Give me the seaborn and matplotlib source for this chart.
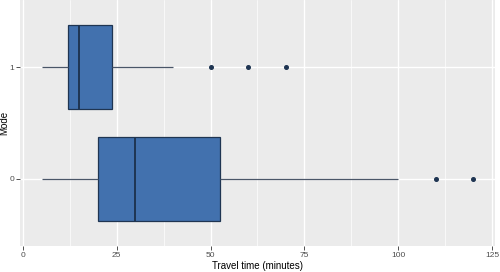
import numpy as np
import pandas as pd
import seaborn as sns
import matplotlib.pyplot as plt
from matplotlib.ticker import MultipleLocator

# Travel time observations (minutes) per mode
mode0_times = [5, 10, 15, 20, 25, 28, 30, 35, 45, 52.5, 100, 110, 120]
mode1_times = [5, 8, 10, 11, 12, 13, 14, 14.5, 15, 17, 19, 21, 23.75, 40, 50, 60, 70]
mode_order = ["1", "0"]
x_ticks = [0, 25, 50, 75, 100, 125]

df = pd.DataFrame({
    "time": mode0_times + mode1_times,
    "Mode": ["0"] * len(mode0_times) + ["1"] * len(mode1_times),
})

sns.set_theme(style="darkgrid")
plt.rcParams["font.family"] = ["Liberation Sans", "DejaVu Sans"]

fig = plt.figure(figsize=(5.0, 2.72), dpi=100)
ax = fig.add_axes([0.040, 0.0956, 0.950, 0.9044])
ax.set_facecolor("#EBEBEB")

fill = "#4271AE"
line = "#1F3552"
sns.boxplot(data=df, x="time", y="Mode", order=mode_order, orient="h",
            width=0.75, color=fill, saturation=1, whis=1.5, ax=ax,
            boxprops=dict(facecolor=fill, edgecolor=line, linewidth=0.9),
            medianprops=dict(color=line, linewidth=1.4),
            whiskerprops=dict(color="#4A5668", linewidth=0.9),
            capprops=dict(linewidth=0),
            flierprops=dict(marker="o", markersize=2.6, markerfacecolor=line,
                            markeredgecolor=line, linestyle="none"))

ax.set_xlim(-0.75, 125.75)
ax.set_ylim(1.6, -0.6)
ax.set_xticks(x_ticks)
ax.xaxis.set_minor_locator(MultipleLocator(12.5))
ax.grid(which="major", color="white", linewidth=1.0)
ax.grid(which="minor", axis="x", color="white", linewidth=0.5)
ax.set_axisbelow(True)
for s in ax.spines.values():
    s.set_visible(False)

ax.tick_params(axis="both", which="major", length=2.6, width=0.6, color="#333333",
               labelsize=6, labelcolor="#4D4D4D", pad=1.5, bottom=True, left=True)
ax.tick_params(axis="x", which="minor", length=0)
ax.set_xlabel("Travel time (minutes)", fontsize=7, color="black")
ax.set_ylabel("Mode", fontsize=7, color="black")
ax.xaxis.set_label_coords(0.5, -0.063)
ax.yaxis.set_label_coords(-0.023, 0.5)

fig.savefig("out.png", dpi=100)
